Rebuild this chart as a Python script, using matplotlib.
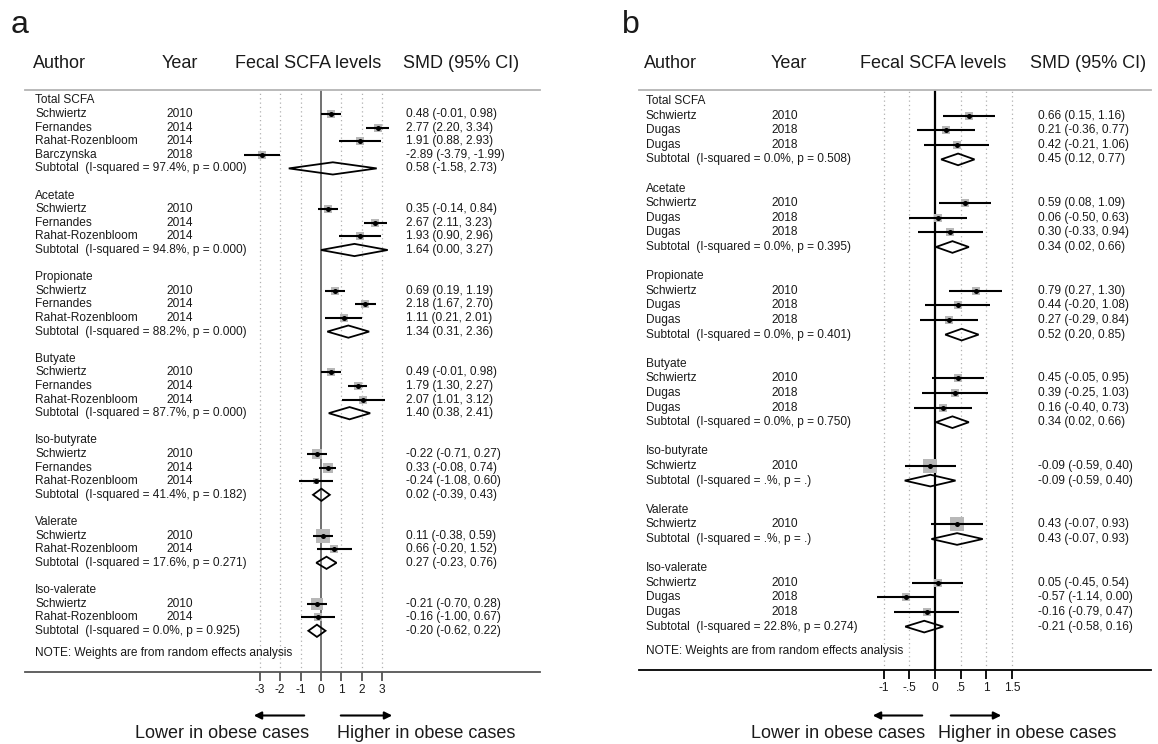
import matplotlib
matplotlib.use("Agg")
import matplotlib.pyplot as plt
import matplotlib.transforms as mtransforms

plt.rcParams['font.family'] = ['Liberation Sans', 'DejaVu Sans']

W, H = 1158, 744

# ---------------- panel a data ----------------
a_groups = ["Total SCFA", "Acetate", "Propionate", "Butyate",
            "Iso-butyrate", "Valerate", "Iso-valerate"]
a_authors = [
    ["Schwiertz", "Fernandes", "Rahat-Rozenbloom", "Barczynska"],
    ["Schwiertz", "Fernandes", "Rahat-Rozenbloom"],
    ["Schwiertz", "Fernandes", "Rahat-Rozenbloom"],
    ["Schwiertz", "Fernandes", "Rahat-Rozenbloom"],
    ["Schwiertz", "Fernandes", "Rahat-Rozenbloom"],
    ["Schwiertz", "Rahat-Rozenbloom"],
    ["Schwiertz", "Rahat-Rozenbloom"],
]
a_years = [[2010, 2014, 2014, 2018], [2010, 2014, 2014], [2010, 2014, 2014],
           [2010, 2014, 2014], [2010, 2014, 2014], [2010, 2014], [2010, 2014]]
a_smd = [[0.48, 2.77, 1.91, -2.89], [0.35, 2.67, 1.93], [0.69, 2.18, 1.11],
         [0.49, 1.79, 2.07], [-0.22, 0.33, -0.24], [0.11, 0.66], [-0.21, -0.16]]
a_lo = [[-0.01, 2.20, 0.88, -3.79], [-0.14, 2.11, 0.90], [0.19, 1.67, 0.21],
        [-0.01, 1.30, 1.01], [-0.71, -0.08, -1.08], [-0.38, -0.20], [-0.70, -1.00]]
a_hi = [[0.98, 3.34, 2.93, -1.99], [0.84, 3.23, 2.96], [1.19, 2.70, 2.01],
        [0.98, 2.27, 3.12], [0.27, 0.74, 0.60], [0.59, 1.52], [0.28, 0.67]]
a_weight = [[25.2, 25.4, 24.3, 25.1], [34.0, 33.8, 32.2], [34.5, 34.3, 31.2],
            [35.0, 34.8, 30.2], [38.5, 47.5, 14.0], [78.0, 22.0], [74.0, 26.0]]
a_sub_smd = [0.58, 1.64, 1.34, 1.40, 0.02, 0.27, -0.20]
a_sub_lo = [-1.58, 0.00, 0.31, 0.38, -0.39, -0.23, -0.62]
a_sub_hi = [2.73, 3.27, 2.36, 2.41, 0.43, 0.76, 0.22]
a_isq = ["97.4%", "94.8%", "88.2%", "87.7%", "41.4%", "17.6%", "0.0%"]
a_p = ["0.000", "0.000", "0.000", "0.000", "0.182", "0.271", "0.925"]
a_ticks = [-3, -2, -1, 0, 1, 2, 3]
a_ticklabels = ["-3", "-2", "-1", "0", "1", "2", "3"]

# ---------------- panel b data ----------------
b_groups = a_groups
b_authors = [["Schwiertz", "Dugas", "Dugas"]] * 4 + [["Schwiertz"]] * 2 + \
            [["Schwiertz", "Dugas", "Dugas"]]
b_years = [[2010, 2018, 2018]] * 4 + [[2010]] * 2 + [[2010, 2018, 2018]]
b_smd = [[0.66, 0.21, 0.42], [0.59, 0.06, 0.30], [0.79, 0.44, 0.27],
         [0.45, 0.39, 0.16], [-0.09], [0.43], [0.05, -0.57, -0.16]]
b_lo = [[0.15, -0.36, -0.21], [0.08, -0.50, -0.33], [0.27, -0.20, -0.29],
        [-0.05, -0.25, -0.40], [-0.59], [-0.07], [-0.45, -1.14, -0.79]]
b_hi = [[1.16, 0.77, 1.06], [1.09, 0.63, 0.94], [1.30, 1.08, 0.84],
        [0.95, 1.03, 0.73], [0.40], [0.93], [0.54, 0.00, 0.47]]
b_weight = [[41, 33, 26], [41, 33, 26], [40, 26, 34], [41, 26, 33],
            [100], [100], [40, 31, 29]]
b_sub_smd = [0.45, 0.34, 0.52, 0.34, -0.09, 0.43, -0.21]
b_sub_lo = [0.12, 0.02, 0.20, 0.02, -0.59, -0.07, -0.58]
b_sub_hi = [0.77, 0.66, 0.85, 0.66, 0.40, 0.93, 0.16]
b_isq = ["0.0%", "0.0%", "0.0%", "0.0%", ".%", ".%", "22.8%"]
b_p = ["0.508", "0.395", "0.401", "0.750", ".", ".", "0.274"]
b_ticks = [-1, -0.5, 0, 0.5, 1, 1.5]
b_ticklabels = ["-1", "-.5", "0", ".5", "1", "1.5"]

headers = ["Author", "Year", "Fecal SCFA levels", "SMD (95% CI)"]
note = "NOTE: Weights are from random effects analysis"
TXT = '#1a1a1a'

fig = plt.figure(figsize=(W / 100, H / 100), dpi=100)


def draw_panel(letter, groups, authors, years, smd, lo, hi, weight,
               sub_smd, sub_lo, sub_hi, isq, p, ticks, ticklabels, lay):
    # layout is in figure pixels, converted to axes position / limits
    left, right, top, bottom = lay['box']
    zero, unit = lay['zero'], lay['unit']
    row0, rowh = lay['row0'], lay['rowh']
    ax = fig.add_axes([left / W, 1 - bottom / H, (right - left) / W, (bottom - top) / H])
    ax.set_xlim((left - zero) / unit, (right - zero) / unit)
    ax.set_ylim((bottom - row0) / rowh, (top - row0) / rowh)
    ax.patch.set_visible(False)

    for s in ['left', 'right']:
        ax.spines[s].set_visible(False)
    ax.spines['top'].set_color('#b4b4b4')
    ax.spines['top'].set_linewidth(1.3)
    ax.spines['bottom'].set_color(lay['axcol'])
    ax.spines['bottom'].set_linewidth(1.3)
    ax.set_yticks([])
    ax.set_xticks(ticks)
    ax.set_xticklabels(ticklabels)
    ax.tick_params(axis='x', direction='out', length=6.8, width=1.3, pad=2,
                   labelsize=8.6, color=lay['axcol'], labelcolor=TXT)

    for t in ticks:
        if t != 0:
            ax.axvline(t, color='#b0b0b0', lw=0.9, ls=(0, (1, 2.5)), zorder=0)
    ax.axvline(0, color=lay['zcol'], lw=lay['zlw'], zorder=1)

    tr = mtransforms.blended_transform_factory(fig.transFigure, ax.transData)
    fs = 8.6
    row = 0
    for g in range(len(groups)):
        ax.text(lay['c_auth'] / W, row, groups[g], transform=tr, fontsize=fs,
                va='center', color=TXT)
        row += 1
        for i in range(len(authors[g])):
            ax.text(lay['c_auth'] / W, row, authors[g][i], transform=tr,
                    fontsize=fs, va='center', color=TXT)
            ax.text(lay['c_year'] / W, row, str(years[g][i]), transform=tr,
                    fontsize=fs, va='center', color=TXT)
            ax.text(lay['c_ci'] / W, row,
                    f"{smd[g][i]:.2f} ({lo[g][i]:.2f}, {hi[g][i]:.2f})",
                    transform=tr, fontsize=fs, va='center', color=TXT)
            side = lay['k'] * weight[g][i] ** 0.5 * 0.72
            ax.scatter(smd[g][i], row, marker='s', s=side ** 2, color='#b8b8b8',
                       lw=0, zorder=2)
            ax.hlines(row, lo[g][i], hi[g][i], color='black', lw=1.5, zorder=3)
            ax.scatter(smd[g][i], row, s=13, color='black', lw=0, zorder=4)
            row += 1
        ax.text(lay['c_auth'] / W, row,
                f"Subtotal  (I-squared = {isq[g]}, p = {p[g]})",
                transform=tr, fontsize=fs, va='center', color=TXT)
        ax.text(lay['c_ci'] / W, row,
                f"{sub_smd[g]:.2f} ({sub_lo[g]:.2f}, {sub_hi[g]:.2f})",
                transform=tr, fontsize=fs, va='center', color=TXT)
        h = lay['dh']
        ax.fill([sub_lo[g], sub_smd[g], sub_hi[g], sub_smd[g]],
                [row, row - h, row, row + h], fill=False, edgecolor='black',
                lw=1.3, zorder=3)
        row += 2
    ax.text(lay['c_auth'] / W, row - 2 + lay['note'], note, transform=tr,
            fontsize=fs, va='center', color=TXT)

    # headers and panel letter
    for x, s in zip(lay['hdr'], headers):
        fig.text(x / W, 1 - 64 / H, s, fontsize=13, va='center', color=TXT)
    fig.text(lay['letter'] / W, 1 - 25 / H, letter, fontsize=23, va='center',
             color=TXT)

    # direction arrows and captions
    ya = 1 - 715.5 / H
    for x0, x1 in lay['arrows']:
        fig.add_artist(matplotlib.patches.FancyArrowPatch(
            (x0 / W, ya), (x1 / W, ya), transform=fig.transFigure,
            arrowstyle='-|>', mutation_scale=11, lw=1.5, color='black'))
    fig.text(lay['lower'] / W, 1 - 734 / H, "Lower in obese cases", fontsize=13,
             ha='right', va='center', color=TXT)
    fig.text(lay['higher'] / W, 1 - 734 / H, "Higher in obese cases", fontsize=13,
             ha='left', va='center', color=TXT)


lay_a = dict(box=(25, 540, 90, 672), zero=321, unit=20.4, row0=100.4, rowh=13.6,
             c_auth=35, c_year=166.5, c_ci=406, hdr=(33, 162, 235, 403),
             letter=11, axcol='#555555', zcol='#4a4a4a', zlw=1.1, k=1.5,
             dh=0.45, note=1.6, arrows=((307, 251), (338, 395)),
             lower=309, higher=337)
lay_b = dict(box=(639, 1151, 90, 670), zero=935, unit=51.3, row0=101, rowh=14.6,
             c_auth=646, c_year=771, c_ci=1038.5, hdr=(644, 771, 860, 1030),
             letter=622, axcol='black', zcol='black', zlw=1.6, k=1.4,
             dh=0.4, note=1.65, arrows=((925, 870), (948, 1004)),
             lower=925, higher=938)

draw_panel("a", a_groups, a_authors, a_years, a_smd, a_lo, a_hi, a_weight,
           a_sub_smd, a_sub_lo, a_sub_hi, a_isq, a_p, a_ticks, a_ticklabels, lay_a)
draw_panel("b", b_groups, b_authors, b_years, b_smd, b_lo, b_hi, b_weight,
           b_sub_smd, b_sub_lo, b_sub_hi, b_isq, b_p, b_ticks, b_ticklabels, lay_b)

fig.savefig("out.png", dpi=100)
